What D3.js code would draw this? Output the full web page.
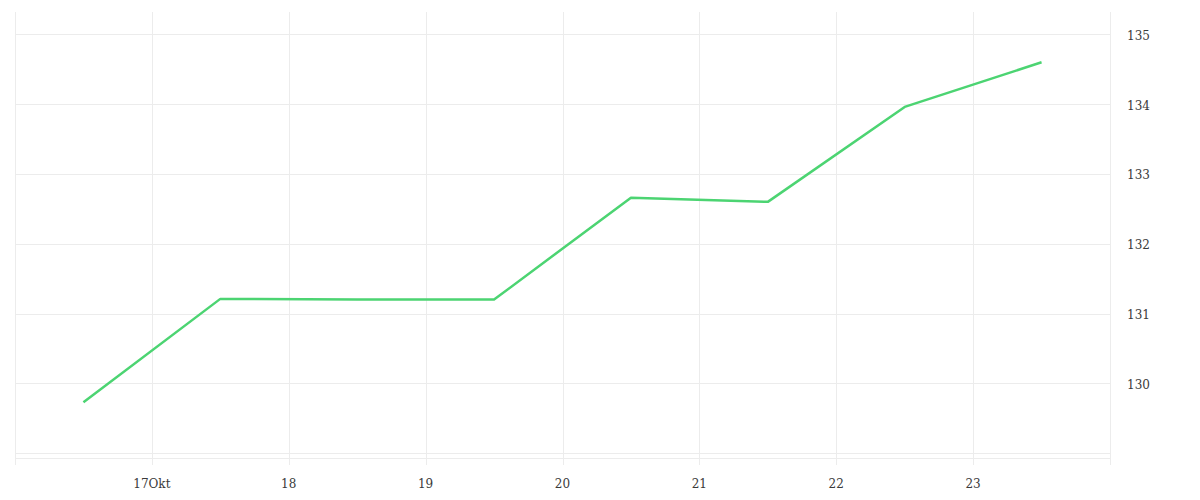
<!DOCTYPE html>
<html>
<head>
<meta charset="utf-8">
<script src="https://cdn.jsdelivr.net/npm/d3@7"></script>
<style>
  body { margin: 0; background: #fff; }
  svg { display: block; }
  text { font-family: "DejaVu Serif", "Liberation Serif", serif; font-size: 12px; fill: #3a3a3a; }
</style>
</head>
<body>
<svg id="chart" width="1200" height="500"></svg>
<script>

// values (one point per half day)
var dates = ["2023-10-16T12:00", "2023-10-17T12:00", "2023-10-18T12:00", "2023-10-19T12:00",
             "2023-10-20T12:00", "2023-10-21T12:00", "2023-10-22T12:00", "2023-10-23T12:00"];
var prices = [129.73, 131.21, 131.20, 131.20, 132.66, 132.60, 133.96, 134.60];

var xTickDates = ["2023-10-17", "2023-10-18", "2023-10-19", "2023-10-20", "2023-10-21", "2023-10-22", "2023-10-23"];
var xTickLabels = ["17Okt", "18", "19", "20", "21", "22", "23"];
var yGridValues = [129, 130, 131, 132, 133, 134, 135];
var yTickLabels = ["130", "131", "132", "133", "134", "135"];

var parse = d3.timeParse("%Y-%m-%dT%H:%M");
var parseDay = d3.timeParse("%Y-%m-%d");

var data = [];
for (var i = 0; i < dates.length; i++) {
  data.push({ date: parse(dates[i]), value: prices[i] });
}

var svg = d3.select("#chart");
var plotLeft = 15, plotRight = 1110, plotTop = 12, plotBottom = 465;

var x = d3.scaleTime()
  .domain([parseDay("2023-10-16"), parseDay("2023-10-24")])
  .range([plotLeft, plotRight]);

var y = d3.scaleLinear()
  .domain([128.83, 135.32])
  .range([plotBottom, plotTop]);

var grid = svg.append("g").attr("stroke", "#ececec").attr("stroke-width", 1);

// horizontal grid
grid.selectAll("line.h")
  .data(yGridValues)
  .enter()
  .append("line")
    .attr("x1", plotLeft)
    .attr("x2", plotRight)
    .attr("y1", function(d) { return Math.round(y(d)) + 0.5; })
    .attr("y2", function(d) { return Math.round(y(d)) + 0.5; });

// extra bottom line (x axis)
grid.append("line")
  .attr("x1", plotLeft).attr("x2", plotRight)
  .attr("y1", 458.5).attr("y2", 458.5);

// vertical grid
grid.selectAll("line.v")
  .data(xTickDates)
  .enter()
  .append("line")
    .attr("x1", function(d) { return Math.round(x(parseDay(d))) + 0.5; })
    .attr("x2", function(d) { return Math.round(x(parseDay(d))) + 0.5; })
    .attr("y1", plotTop)
    .attr("y2", plotBottom);

// borders
grid.append("line").attr("x1", plotLeft + 0.5).attr("x2", plotLeft + 0.5).attr("y1", plotTop).attr("y2", plotBottom);
grid.append("line").attr("x1", plotRight + 0.5).attr("x2", plotRight + 0.5).attr("y1", plotTop).attr("y2", plotBottom);

// y labels (right side), centred on their gridline
svg.append("g").selectAll("text")
  .data(yTickLabels)
  .enter()
  .append("text")
    .attr("x", 1127)
    .attr("y", function(d) { return y(+d) + 5.5; })
    .text(function(d) { return d; });

// x labels
svg.append("g").selectAll("text")
  .data(xTickDates)
  .enter()
  .append("text")
    .attr("x", function(d) { return x(parseDay(d)); })
    .attr("y", 488)
    .attr("text-anchor", "middle")
    .text(function(d, i) { return xTickLabels[i]; });

var line = d3.line()
  .x(function(d) { return x(d.date); })
  .y(function(d) { return y(d.value); });

svg.append("path")
  .datum(data)
  .attr("fill", "none")
  .attr("stroke", "#4cd472")
  .attr("stroke-width", 2.5)
  .attr("stroke-linejoin", "round")
  .attr("d", line);

</script>
</body>
</html>
